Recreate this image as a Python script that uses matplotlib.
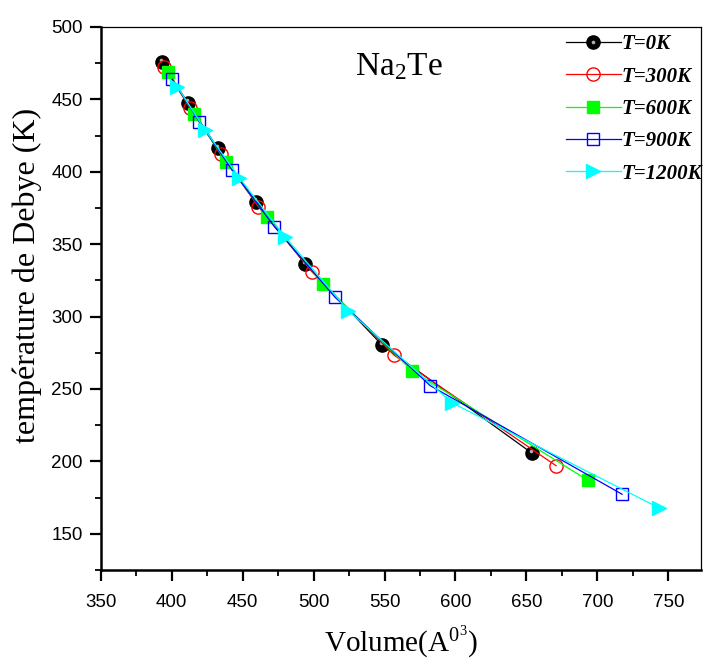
import matplotlib
matplotlib.use("Agg")
import matplotlib.pyplot as plt
from matplotlib.ticker import MultipleLocator
from matplotlib.transforms import offset_copy
from matplotlib.legend_handler import HandlerTuple

plt.rcParams['mathtext.fontset'] = 'custom'
plt.rcParams['mathtext.rm'] = 'Liberation Serif'
plt.rcParams['mathtext.it'] = 'Liberation Serif:italic'

# Debye temperature vs. cell volume for Na2Te at several temperatures
v_0k = [393.0, 411.3, 432.5, 459.3, 494.1, 548.2, 654.0]
t_0k = [476.0, 447.7, 416.2, 379.4, 336.3, 280.4, 205.6]

v_300k = [394.6, 413.0, 434.8, 461.1, 499.2, 556.8, 670.9]
t_300k = [472.6, 443.8, 412.1, 375.9, 330.6, 273.3, 197.0]

v_600k = [397.7, 416.0, 438.1, 467.1, 507.0, 569.3, 693.2]
t_600k = [468.7, 439.9, 407.0, 369.0, 322.3, 262.7, 187.0]

v_900k = [400.5, 419.5, 442.6, 472.4, 515.2, 582.2, 717.4]
t_900k = [463.9, 434.6, 401.2, 362.1, 313.3, 252.3, 177.3]

v_1200k = [404.0, 423.6, 447.7, 480.0, 524.6, 597.5, 743.2]
t_1200k = [458.8, 428.9, 395.9, 355.0, 304.0, 240.5, 168.0]

labels = ["T=0K", "T=300K", "T=600K", "T=900K", "T=1200K"]

fig = plt.figure(figsize=(7.05, 6.63), dpi=100)
ax = fig.add_axes([0.1428, 0.1403, 0.8515, 0.8190])

lw = 0.9
h0, = ax.plot(v_0k, t_0k, '-', color='black', lw=lw, marker='o', ms=9.5,
              mfc='black', mec='black', zorder=2)
# small highlight on the black spheres
hl_tr = offset_copy(ax.transData, fig=fig, x=-0.6, y=1.6, units='points')
ax.plot(v_0k, t_0k, ls='none', marker='o', ms=2.6, mfc='#b0b0b0',
        mec='none', transform=hl_tr, zorder=2.1)
h0_hl, = ax.plot([], [], ls='none', marker='o', ms=2.6, mfc='#b0b0b0', mec='none')

h1, = ax.plot(v_300k, t_300k, '-', color='red', lw=lw, marker='o', ms=9.5,
              mfc='none', mec='red', mew=1.0, zorder=3)
h2, = ax.plot(v_600k, t_600k, '-', color='#00ff00', lw=lw, marker='s', ms=8,
              mfc='#00ff00', mec='#00ff00', zorder=4)
h3, = ax.plot(v_900k, t_900k, '-', color='blue', lw=lw, marker='s', ms=8,
              mfc='none', mec='blue', mew=1.0, zorder=5)
h4, = ax.plot(v_1200k, t_1200k, '-', color='cyan', lw=lw, marker='>', ms=10.5,
              mfc='cyan', mec='cyan', zorder=6)

ax.set_xlim(350, 773)
ax.set_ylim(125, 500)
ax.xaxis.set_major_locator(MultipleLocator(50))
ax.xaxis.set_minor_locator(MultipleLocator(25))
ax.yaxis.set_major_locator(MultipleLocator(50))
ax.yaxis.set_minor_locator(MultipleLocator(25))

ax.tick_params(which='major', direction='out', length=8, width=1.6,
               labelsize=13.5, pad=5, top=False, right=False)
ax.tick_params(axis='x', which='major', pad=9)
ax.tick_params(which='minor', direction='out', length=4, width=1.3,
               top=False, right=False)
for lab in ax.get_xticklabels() + ax.get_yticklabels():
    lab.set_fontfamily('Liberation Sans')

ax.spines['left'].set_linewidth(1.8)
ax.spines['bottom'].set_linewidth(1.8)
ax.spines['top'].set_linewidth(0.9)
ax.spines['right'].set_linewidth(0.9)

ax.set_xlabel(r'Volume(A$^{0^{3}}$)', family='Liberation Serif',
              fontsize=21)
ax.xaxis.set_label_coords(0.5, -0.10)
ax.set_ylabel('température de Debye (K)', family='Liberation Serif',
              fontsize=23)
ax.yaxis.set_label_coords(-0.098, 0.543)

ax.text(0.424, 0.955, r'Na$_{2}$Te', transform=ax.transAxes,
        family='Liberation Serif', fontsize=24, ha='left', va='top')

leg = ax.legend([(h0, h0_hl), h1, h2, h3, h4], labels,
                handler_map={tuple: HandlerTuple(ndivide=1, pad=0)},
                loc='upper left', bbox_to_anchor=(0.761, 1.0016),
                frameon=False, handlelength=2.65, handletextpad=0.02,
                labelspacing=0.59, borderaxespad=0,
                prop={'family': 'Liberation Serif', 'weight': 'bold',
                      'style': 'italic', 'size': 15})

fig.savefig('out.png', dpi=100)
